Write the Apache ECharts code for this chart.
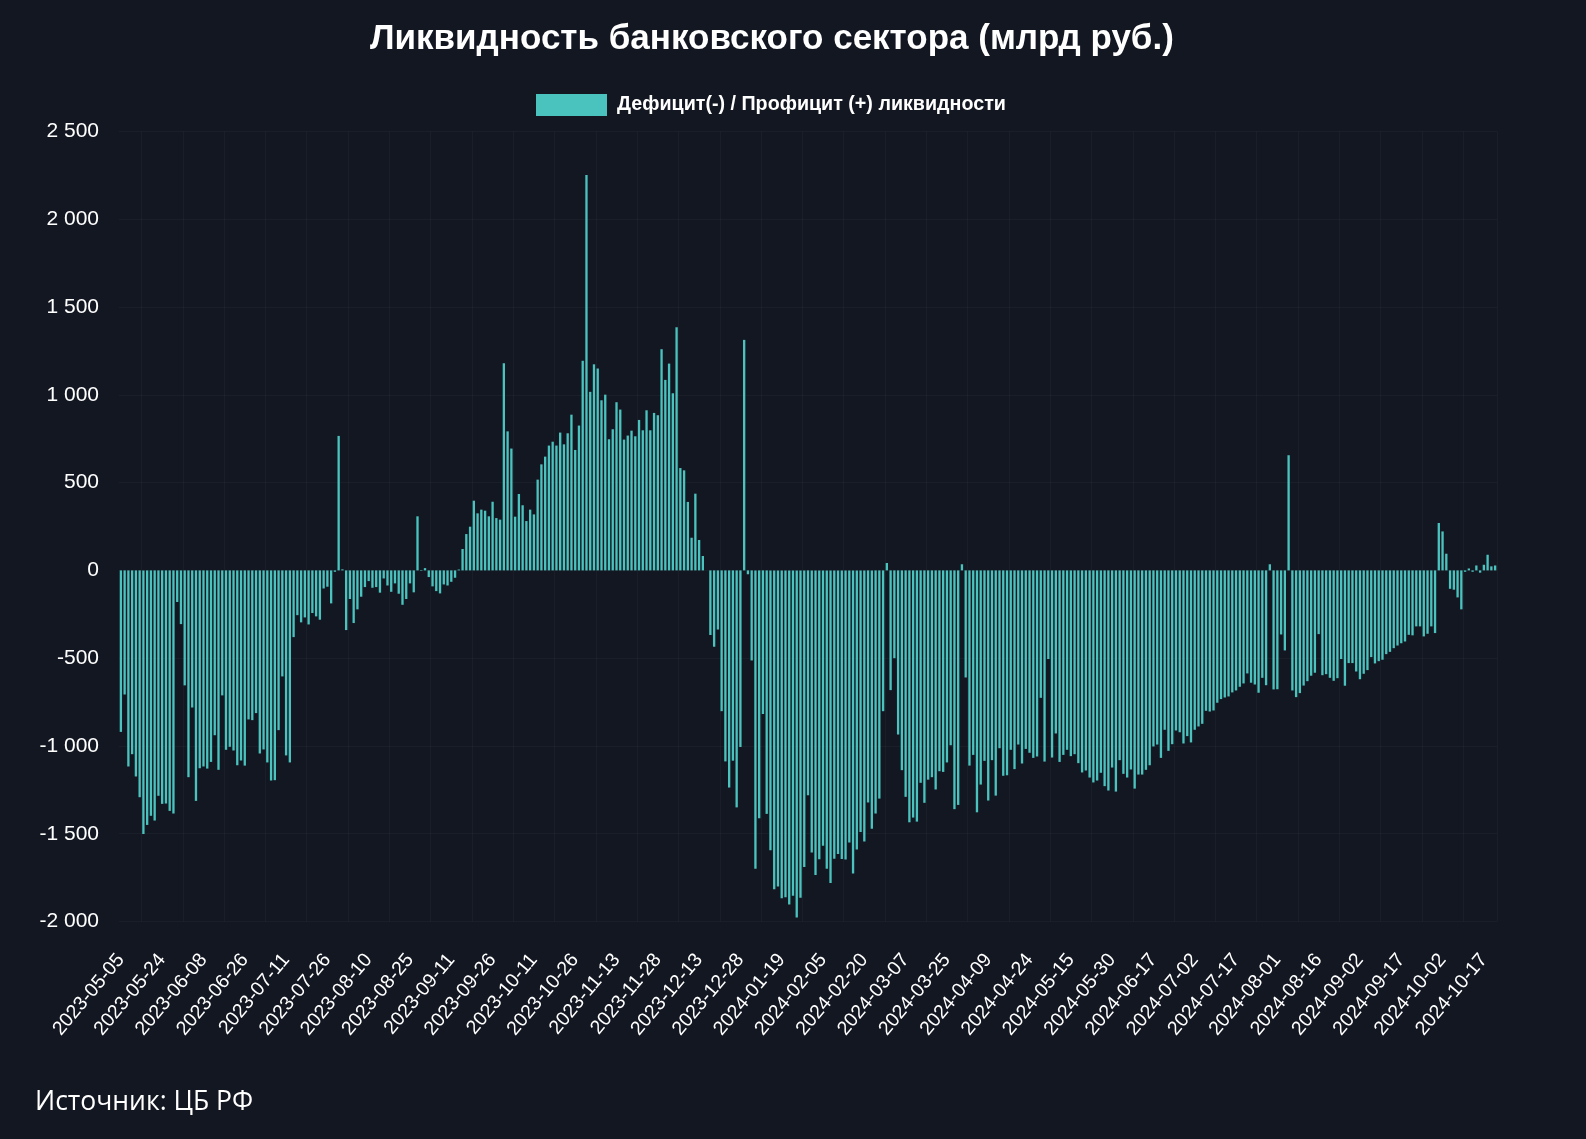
<!DOCTYPE html>
<html>
<head>
<meta charset="utf-8">
<script src="https://cdn.jsdelivr.net/npm/echarts@6/dist/echarts.min.js"></script>
<style>
html,body{margin:0;padding:0;background:#131722;}
#c{width:1586px;height:1139px;}
</style>
</head>
<body>
<div id="c"></div>
<script>
// Business days (month -> days) of the CBR liquidity series
const days2023_05 = [5,10,11,12,15,16,17,18,19,22,23,24,25,26,29,30,31];
const days2023_06 = [1,2,5,6,7,8,9,13,14,15,16,19,20,21,22,23,26,27,28,29,30];
const days2023_07 = [3,4,5,6,7,10,11,12,13,14,17,18,19,20,21,24,25,26,27,28,31];
const days2023_08 = [1,2,3,4,7,8,9,10,11,14,15,16,17,18,21,22,23,24,25,28,29,30,31];
const days2023_09 = [1,4,5,6,7,8,11,12,13,14,15,18,19,20,21,22,25,26,27,28,29];
const days2023_10 = [2,3,4,5,6,9,10,11,12,13,16,17,18,19,20,23,24,25,26,27,30,31];
const days2023_11 = [1,2,3,7,8,9,10,13,14,15,16,17,20,21,22,23,24,27,28,29,30];
const days2023_12 = [1,4,5,6,7,8,11,12,13,14,15,18,19,20,21,22,25,26,27,28,29,30];
const days2024_01 = [9,10,11,12,15,16,17,18,19,22,23,24,25,26,29,30,31];
const days2024_02 = [1,2,5,6,7,8,9,12,13,14,15,16,19,20,21,22,26,27,28,29];
const days2024_03 = [1,4,5,6,7,11,12,13,14,15,18,19,20,21,22,25,26,27,28,29];
const days2024_04 = [1,2,3,4,5,8,9,10,11,12,15,16,17,18,19,22,23,24,25,26,27];
const days2024_05 = [2,3,6,7,8,13,14,15,16,17,20,21,22,23,24,27,28,29,30,31];
const days2024_06 = [3,4,5,6,7,10,11,13,14,17,18,19,20,21,24,25,26,27,28];
const days2024_07 = [1,2,3,4,5,8,9,10,11,12,15,16,17,18,19,22,23,24,25,26,29,30,31];
const days2024_08 = [1,2,5,6,7,8,9,12,13,14,15,16,19,20,21,22,23,26,27,28,29,30];
const days2024_09 = [2,3,4,5,6,9,10,11,12,13,16,17,18,19,20,23,24,25,26,27,30];
const days2024_10 = [1,2,3,4,7,8,9,10,11,14,15,16,17,18,21,22];

// Liquidity deficit(-) / surplus(+), bn RUB, per month
const vals2023_05 = [-920,-707,-1117,-1047,-1174,-1292,-1501,-1450,-1398,-1425,-1284,-1330,-1328,-1370,-1385,-180,-306];
const vals2023_06 = [-655,-1178,-781,-1313,-1127,-1117,-1129,-1091,-939,-1136,-712,-1022,-1005,-1026,-1110,-1083,-1112,-849,-853,-813,-1043];
const vals2023_07 = [-1020,-1094,-1197,-1195,-910,-604,-1054,-1094,-380,-255,-296,-268,-308,-243,-262,-281,-103,-93,-188,-8,766];
const vals2023_08 = [6,-340,-163,-300,-222,-150,-95,-61,-99,-95,-127,-46,-86,-122,-74,-133,-196,-163,-74,-125,308,-3,13];
const vals2023_09 = [-38,-91,-118,-131,-80,-86,-65,-42,5,122,207,249,397,325,346,340,308,391,298,289,1180];
const vals2023_10 = [792,694,306,435,371,281,346,319,517,604,648,711,733,711,785,718,781,887,686,825,1194,2252];
const vals2023_11 = [1017,1174,1150,969,1001,747,804,958,916,745,768,796,764,857,798,912,798,897,884,1260,1085];
const vals2023_12 = [1178,1009,1385,583,570,390,186,437,173,82,0,-368,-435,-337,-802,-1088,-1237,-1084,-1350,-1006,1313,-22];
const vals2024_01 = [-513,-1700,-1412,-818,-1387,-1594,-1817,-1800,-1867,-1862,-1903,-1854,-1977,-1865,-1689,-1281,-1607];
const vals2024_02 = [-1735,-1645,-1569,-1700,-1780,-1642,-1615,-1644,-1647,-1550,-1727,-1590,-1490,-1545,-1322,-1471,-1385,-1300,-802,42];
const vals2024_03 = [-682,-500,-935,-1138,-1290,-1435,-1408,-1431,-1210,-1324,-1192,-1178,-1248,-1144,-1148,-1094,-996,-1360,-1336,35];
const vals2024_04 = [-610,-1112,-1051,-1378,-1220,-1085,-1311,-1081,-1283,-1013,-1170,-1167,-1022,-1132,-992,-1100,-1017,-1039,-1068,-1060,-726];
const vals2024_05 = [-1089,-505,-1066,-929,-1091,-1051,-1022,-1058,-1047,-1098,-1151,-1140,-1180,-1208,-1197,-1153,-1229,-1254,-1123,-1260];
const vals2024_06 = [-1081,-1159,-1180,-1134,-1243,-1163,-1163,-1136,-1110,-1003,-992,-1068,-908,-1028,-990,-912,-922,-986,-944];
const vals2024_07 = [-980,-908,-889,-874,-800,-804,-798,-754,-733,-724,-718,-695,-684,-663,-644,-587,-640,-650,-697,-612,-654,35,-678];
const vals2024_08 = [-677,-365,-456,656,-684,-722,-699,-656,-631,-600,-583,-363,-597,-591,-612,-629,-614,-505,-657,-528,-528,-576];
const vals2024_09 = [-620,-589,-568,-494,-530,-517,-509,-477,-464,-443,-428,-415,-405,-367,-370,-319,-319,-376,-361,-319,-357];
const vals2024_10 = [270,222,95,-105,-110,-154,-222,-8,11,-8,28,-13,32,89,23,28];

const months = [
  ['2023-05', days2023_05, vals2023_05], ['2023-06', days2023_06, vals2023_06],
  ['2023-07', days2023_07, vals2023_07], ['2023-08', days2023_08, vals2023_08],
  ['2023-09', days2023_09, vals2023_09], ['2023-10', days2023_10, vals2023_10],
  ['2023-11', days2023_11, vals2023_11], ['2023-12', days2023_12, vals2023_12],
  ['2024-01', days2024_01, vals2024_01], ['2024-02', days2024_02, vals2024_02],
  ['2024-03', days2024_03, vals2024_03], ['2024-04', days2024_04, vals2024_04],
  ['2024-05', days2024_05, vals2024_05], ['2024-06', days2024_06, vals2024_06],
  ['2024-07', days2024_07, vals2024_07], ['2024-08', days2024_08, vals2024_08],
  ['2024-09', days2024_09, vals2024_09], ['2024-10', days2024_10, vals2024_10]
];

const yTicks = [-2000, -1500, -1000, -500, 0, 500, 1000, 1500, 2000, 2500];

const categories = [];
const values = [];
months.forEach(([ym, ds, vs]) => {
  ds.forEach((d, i) => {
    categories.push(ym + '-' + String(d).padStart(2, '0'));
    values.push(vs[i]);
  });
});

function fmt(v) {
  const s = Math.abs(v).toString().replace(/\B(?=(\d{3})+(?!\d))/g, ' ');
  return (v < 0 ? '-' : '') + s;
}

const chart = echarts.init(document.getElementById('c'), null, {renderer: 'canvas'});
const FONT = '"Liberation Sans", Arial, sans-serif';
chart.setOption({
  backgroundColor: '#131722',
  animation: false,
  title: {
    text: 'Ликвидность банковского сектора (млрд руб.)',
    left: 365,
    top: 17,
    textStyle: {color: '#ffffff', fontSize: 35, fontWeight: 'bold', fontFamily: FONT}
  },
  legend: {
    top: 89,
    left: 531,
    itemWidth: 71,
    itemHeight: 22,
    itemGap: 10,
    icon: 'rect',
    textStyle: {color: '#ffffff', fontSize: 19.7, fontWeight: 'bold', fontFamily: FONT, padding: [0, 0, 0, 5]},
    data: ['Дефицит(-) / Профицит (+) ликвидности']
  },
  grid: {left: 119, right: 89, top: 131.5, bottom: 217.5, containLabel: false},
  xAxis: {
    type: 'category',
    data: categories,
    boundaryGap: true,
    axisLine: {show: false},
    axisTick: {show: false},
    splitLine: {
      show: true,
      interval: (i) => i % 11 === 6,
      lineStyle: {color: 'rgba(255,255,255,0.03)', width: 1}
    },
    axisLabel: {
      interval: 10,
      rotate: 50,
      color: '#ffffff',
      fontSize: 19.5,
      fontFamily: FONT,
      margin: 35
    }
  },
  yAxis: {
    type: 'value',
    min: yTicks[0],
    max: yTicks[yTicks.length - 1],
    interval: 500,
    axisLine: {show: false},
    axisTick: {show: false},
    splitLine: {show: true, lineStyle: {color: 'rgba(255,255,255,0.03)', width: 1}},
    axisLabel: {
      color: '#ffffff',
      fontSize: 21,
      fontFamily: FONT,
      margin: 20,
      formatter: fmt
    }
  },
  series: [{
    name: 'Дефицит(-) / Профицит (+) ликвидности',
    type: 'bar',
    data: values,
    barCategoryGap: '38%',
    itemStyle: {color: '#4ac2bd'}
  }],
  graphic: [{
    type: 'text',
    left: 35,
    top: 1089,
    style: {
      text: 'Источник: ЦБ РФ',
      fill: '#ffffff',
      fontSize: 26.5,
      fontFamily: '"Open Sans", "Noto Sans", sans-serif'
    }
  }]
});
</script>
</body>
</html>
